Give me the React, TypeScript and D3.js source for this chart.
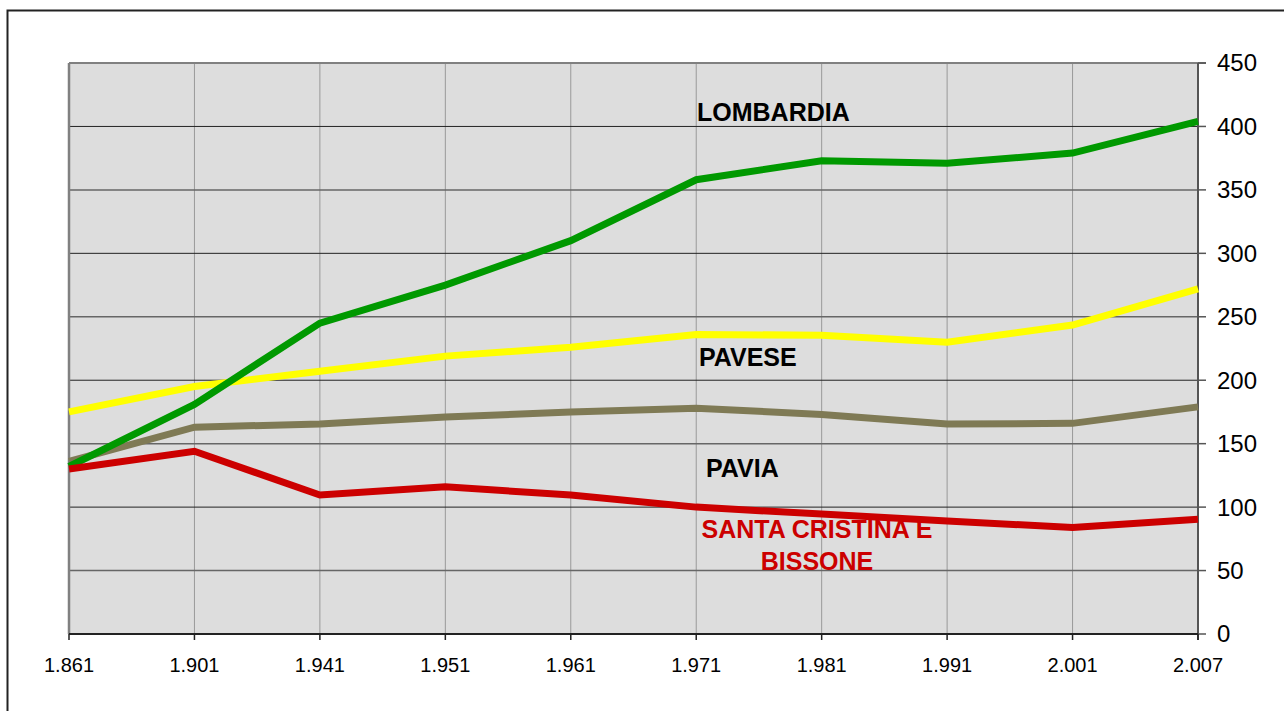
import React from "react";
import * as d3 from "d3";

const years = ["1.861", "1.901", "1.941", "1.951", "1.961", "1.971", "1.981", "1.991", "2.001", "2.007"];
const lombardia = [132, 181, 245, 275, 310, 358, 373, 371, 379, 404];
const pavese = [175, 195, 207, 219, 226, 236, 235.5, 230, 243.5, 272];
const pavia = [136, 163, 165.5, 171, 175, 178, 173, 165.5, 166, 179];
const santaCristina = [130, 144, 109.5, 116, 109.5, 100, 94.5, 89, 84, 90.5];
const yTicks = [0, 50, 100, 150, 200, 250, 300, 350, 400, 450];

const series = [
  { name: "PAVIA", values: pavia, color: "#7f7a55" },
  { name: "PAVESE", values: pavese, color: "#ffff00" },
  { name: "LOMBARDIA", values: lombardia, color: "#009900" },
  { name: "SANTA CRISTINA E BISSONE", values: santaCristina, color: "#cc0000" },
];

export default function App() {
  const W = 1284, H = 711;
  const left = 69, right = 1198, top = 63, bottom = 634;
  const x = d3.scalePoint<string>().domain(years).range([left, right]);
  const y = d3.scaleLinear().domain([0, 450]).range([bottom, top]);
  const line = d3.line<number>().x((_, i) => x(years[i])!).y((v) => y(v));
  const font = "Arial, 'Liberation Sans', sans-serif";
  return (
    <svg width={W} height={H} style={{ position: "absolute", left: 0, top: 0 }}>
      <rect x={0} y={0} width={W} height={H} fill="#fff" />
      <rect x={7.5} y={10.5} width={W + 20} height={H + 20} fill="none" stroke="#222" strokeWidth={2} />
      <rect x={left} y={top} width={right - left} height={bottom - top} fill="#dddddd" />
      {years.map((yr) => (
        <line key={yr} x1={x(yr)} x2={x(yr)} y1={top} y2={bottom} stroke="#999" strokeWidth={1} />
      ))}
      {yTicks.map((t) => (
        <line key={t} x1={left} x2={right} y1={y(t)} y2={y(t)} stroke={t % 100 === 0 ? "#222" : "#666"} strokeWidth={t % 100 === 0 ? 1 : 1.5} />
      ))}
      <line x1={left} x2={left} y1={top} y2={bottom} stroke="#808080" strokeWidth={2.5} />
      <line x1={left} x2={right + 8} y1={top} y2={top} stroke="#808080" strokeWidth={2} />
      <line x1={right} x2={right} y1={top} y2={bottom + 6} stroke="#555" strokeWidth={2} />
      <line x1={left} x2={right} y1={bottom} y2={bottom} stroke="#222" strokeWidth={2} />
      {yTicks.map((t) => (
        <g key={"yt" + t}>
          <line x1={right} x2={right + 8} y1={y(t)} y2={y(t)} stroke="#555" strokeWidth={1.5} />
          <text x={1217} y={y(t)} dy="0.35em" fontFamily={font} fontSize={24} fill="#000">{t}</text>
        </g>
      ))}
      {years.map((yr) => (
        <g key={"xt" + yr}>
          <line x1={x(yr)} x2={x(yr)} y1={bottom} y2={bottom + 6} stroke="#222" strokeWidth={1.5} />
          <text x={x(yr)} y={672} textAnchor="middle" fontFamily={font} fontSize={20} fill="#000">{yr}</text>
        </g>
      ))}
      {series.map((s) => (
        <path key={s.name} d={line(s.values)!} fill="none" stroke={s.color} strokeWidth={7} strokeLinejoin="miter" />
      ))}
      <text x={697} y={121} fontFamily={font} fontSize={25} fontWeight="bold" fill="#000">LOMBARDIA</text>
      <text x={699} y={366} fontFamily={font} fontSize={25} fontWeight="bold" fill="#000">PAVESE</text>
      <text x={706} y={477} fontFamily={font} fontSize={25} fontWeight="bold" fill="#000">PAVIA</text>
      <text x={817} y={538} textAnchor="middle" fontFamily={font} fontSize={25} fontWeight="bold" fill="#cc0000">SANTA CRISTINA E</text>
      <text x={817} y={570} textAnchor="middle" fontFamily={font} fontSize={25} fontWeight="bold" fill="#cc0000">BISSONE</text>
    </svg>
  );
}
